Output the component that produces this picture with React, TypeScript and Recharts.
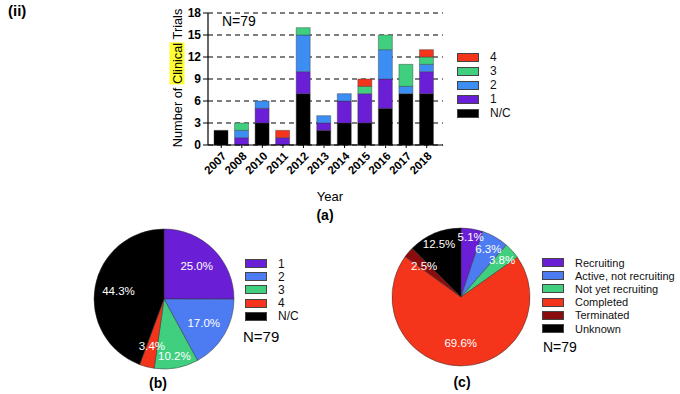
import { FC } from 'react';
import {
  BarChart,
  Bar,
  XAxis,
  YAxis,
  CartesianGrid,
  PieChart,
  Pie,
  Cell
} from 'recharts';

// trials per year, split by phase
const years = ['2007', '2008', '2010', '2011', '2012', '2013', '2014', '2015', '2016', '2017', '2018'];
const phaseNC = [2, 0, 3, 0, 7, 2, 3, 3, 5, 7, 7];
const phase1 = [0, 1, 2, 1, 3, 1, 3, 4, 4, 0, 3];
const phase2 = [0, 1, 1, 0, 5, 1, 1, 0, 4, 1, 1];
const phase3 = [0, 1, 0, 0, 1, 0, 0, 1, 2, 3, 1];
const phase4 = [0, 0, 0, 1, 0, 0, 0, 1, 0, 0, 1];
const yTicks = [0, 3, 6, 9, 12, 15, 18];

// pie (b): phase share
const phaseNames = ['1', '2', '3', '4', 'N/C'];
const phaseShare = [25.0, 17.0, 10.2, 3.4, 44.3];

// pie (c): status share
const statusNames = ['Recruiting', 'Active, not recruiting', 'Not yet recruiting', 'Completed', 'Terminated', 'Unknown'];
const statusShare = [5.1, 6.3, 3.8, 69.6, 2.5, 12.5];

const PURPLE = '#6a1fd6';
const BLUE = '#3d8ef2';
const PIE_BLUE = '#4d7cf2';
const GREEN = '#3fcf7f';
const RED = '#f4351c';
const DARK_RED = '#8a0c0c';
const BLACK = '#000000';
const FONT = '"Liberation Sans", Arial, sans-serif';

const barData = years.map((year, i) => ({
  year,
  nc: phaseNC[i],
  p1: phase1[i],
  p2: phase2[i],
  p3: phase3[i],
  p4: phase4[i]
}));

const phasePie = phaseNames.map((name, i) => ({ name, value: phaseShare[i] }));
const phaseColors = [PURPLE, PIE_BLUE, GREEN, RED, BLACK];

const statusPie = statusNames.map((name, i) => ({ name, value: statusShare[i] }));
const statusColors = [PURPLE, PIE_BLUE, GREEN, RED, DARK_RED, BLACK];

const RADIAN = Math.PI / 180;
const NO_MARGIN = { top: 0, right: 0, bottom: 0, left: 0 };

// thin slices get their label pushed out toward the rim
const labelRadius = (value: number) => {
  if (value >= 15) return 0.66;
  if (value >= 5 && value < 6) return 0.88;
  if (value >= 6 && value < 7) return 0.8;
  if (value >= 3.6 && value < 4) return 0.8;
  if (value < 3 || (value > 3.2 && value < 3.6)) return 0.7;
  return 0.83;
};

const pieLabel = (props: any) => {
  const { cx, cy, midAngle, outerRadius, value } = props;
  const r = outerRadius * labelRadius(value);
  const x = cx + r * Math.cos(-midAngle * RADIAN);
  const y = cy + r * Math.sin(-midAngle * RADIAN);
  return (
    <text
      x={x}
      y={y}
      fill="#fff"
      textAnchor="middle"
      dominantBaseline="central"
      fontSize={11.5}
      fontFamily={FONT}
    >
      {value.toFixed(1) + '%'}
    </text>
  );
};

const YearTick = (props: any) => {
  const { x, y, payload } = props;
  return (
    <g transform={`translate(${x + 3},${y + 4})`}>
      <text
        x={0}
        y={0}
        textAnchor="end"
        dominantBaseline="central"
        transform="rotate(-45)"
        fontSize={11.5}
        fontWeight="bold"
        fontFamily={FONT}
        fill="#000"
      >
        {payload.value}
      </text>
    </g>
  );
};

const LegendList: FC<{
  items: { label: string; color: string }[];
  left: number;
  top: number;
  step: number;
  labelGap: number;
  fontSize?: number;
}> = ({ items, left, top, step, labelGap, fontSize = 12 }) => (
  <div style={{ position: 'absolute', left, top }}>
    {items.map((it) => (
      <div
        key={it.label}
        style={{ display: 'flex', alignItems: 'center', height: step, whiteSpace: 'nowrap' }}
      >
        <div
          style={{
            width: 20,
            height: 7,
            background: it.color,
            border: '0.5px solid #444',
            marginRight: labelGap
          }}
        />
        <span style={{ fontSize, fontFamily: FONT, color: '#111' }}>{it.label}</span>
      </div>
    ))}
  </div>
);

const abs = (left: number, top: number, extra: any = {}) => ({
  position: 'absolute' as const,
  left,
  top,
  fontFamily: FONT,
  whiteSpace: 'nowrap' as const,
  ...extra
});

export default function App() {
  return (
    <div
      style={{
        position: 'absolute',
        left: 0,
        top: 0,
        width: 680,
        height: 394,
        background: '#fff',
        overflow: 'hidden'
      }}
    >
      <div style={abs(8, 2, { fontSize: 15, fontWeight: 'bold' })}>(ii)</div>

      {/* (a) stacked bars */}
      <div style={{ position: 'absolute', left: 150, top: 0 }}>
        <BarChart
          width={300}
          height={200}
          data={barData}
          margin={{ top: 13, right: 7, bottom: 15, left: 28 }}
          barSize={14}
        >
          <CartesianGrid
            vertical={false}
            stroke="#000"
            strokeDasharray="5 4"
            strokeWidth={1.2}
          />
          <XAxis
            dataKey="year"
            interval={0}
            height={40}
            padding={{ left: 3, right: 6 }}
            axisLine={{ stroke: '#000', strokeWidth: 1.2 }}
            tickLine={{ stroke: '#000' }}
            tickSize={3}
            tick={<YearTick />}
          />
          <YAxis
            width={30}
            domain={[0, 18]}
            ticks={yTicks}
            interval={0}
            axisLine={{ stroke: '#000', strokeWidth: 1.2 }}
            tickLine={{ stroke: '#000' }}
            tickSize={5}
            tick={{ fontSize: 12, fontWeight: 'bold', fill: '#000', fontFamily: FONT }}
          />
          <Bar dataKey="nc" stackId="a" fill={BLACK} stroke="#333" strokeWidth={0.4} isAnimationActive={false} />
          <Bar dataKey="p1" stackId="a" fill={PURPLE} stroke="#333" strokeWidth={0.4} isAnimationActive={false} />
          <Bar dataKey="p2" stackId="a" fill={BLUE} stroke="#333" strokeWidth={0.4} isAnimationActive={false} />
          <Bar dataKey="p3" stackId="a" fill={GREEN} stroke="#333" strokeWidth={0.4} isAnimationActive={false} />
          <Bar dataKey="p4" stackId="a" fill={RED} stroke="#333" strokeWidth={0.4} isAnimationActive={false} />
        </BarChart>
      </div>

      <div style={abs(222, 13, { fontSize: 14 })}>N=79</div>

      <div
        style={abs(177, 78, {
          fontSize: 12.8,
          transform: 'translate(-50%, -50%) rotate(-90deg)'
        })}
      >
        Number of <span style={{ background: '#ffff33' }}>Clinical</span> Trials
      </div>

      <div style={abs(330, 196, { fontSize: 13, transform: 'translate(-50%, -50%)' })}>Year</div>
      <div style={abs(325, 215, { fontSize: 14, fontWeight: 'bold', transform: 'translate(-50%, -50%)' })}>(a)</div>

      <LegendList
        left={457}
        top={50}
        step={14}
        labelGap={11}
        items={[
          { label: '4', color: RED },
          { label: '3', color: GREEN },
          { label: '2', color: BLUE },
          { label: '1', color: PURPLE },
          { label: 'N/C', color: BLACK }
        ]}
      />

      {/* (b) phase pie */}
      <div style={{ position: 'absolute', left: 84, top: 219 }}>
        <PieChart width={160} height={160} margin={NO_MARGIN}>
          <Pie
            data={phasePie}
            dataKey="value"
            cx={80}
            cy={80}
            outerRadius={70}
            startAngle={90}
            endAngle={-270}
            stroke="#333"
            strokeWidth={0.5}
            label={pieLabel}
            labelLine={false}
            isAnimationActive={false}
          >
            {phasePie.map((d, i) => (
              <Cell key={d.name} fill={phaseColors[i]} />
            ))}
          </Pie>
        </PieChart>
      </div>

      <LegendList
        left={245}
        top={257}
        step={13.2}
        labelGap={11}
        items={phaseNames.map((n, i) => ({ label: n, color: phaseColors[i] }))}
      />
      <div style={abs(243, 328, { fontSize: 15 })}>N=79</div>
      <div style={abs(158, 383, { fontSize: 14, fontWeight: 'bold', transform: 'translate(-50%, -50%)' })}>(b)</div>

      {/* (c) status pie */}
      <div style={{ position: 'absolute', left: 381, top: 217 }}>
        <PieChart width={160} height={160} margin={NO_MARGIN}>
          <Pie
            data={statusPie}
            dataKey="value"
            cx={80}
            cy={80}
            outerRadius={69}
            startAngle={90}
            endAngle={-270}
            stroke="#333"
            strokeWidth={0.5}
            label={pieLabel}
            labelLine={false}
            isAnimationActive={false}
          >
            {statusPie.map((d, i) => (
              <Cell key={d.name} fill={statusColors[i]} />
            ))}
          </Pie>
        </PieChart>
      </div>

      <LegendList
        left={542}
        top={256}
        step={13.2}
        labelGap={11}
        fontSize={11}
        items={statusNames.map((n, i) => ({ label: n, color: statusColors[i] }))}
      />
      <div style={abs(543, 339, { fontSize: 14 })}>N=79</div>
      <div style={abs(462, 382, { fontSize: 14, fontWeight: 'bold', transform: 'translate(-50%, -50%)' })}>(c)</div>
    </div>
  );
}
